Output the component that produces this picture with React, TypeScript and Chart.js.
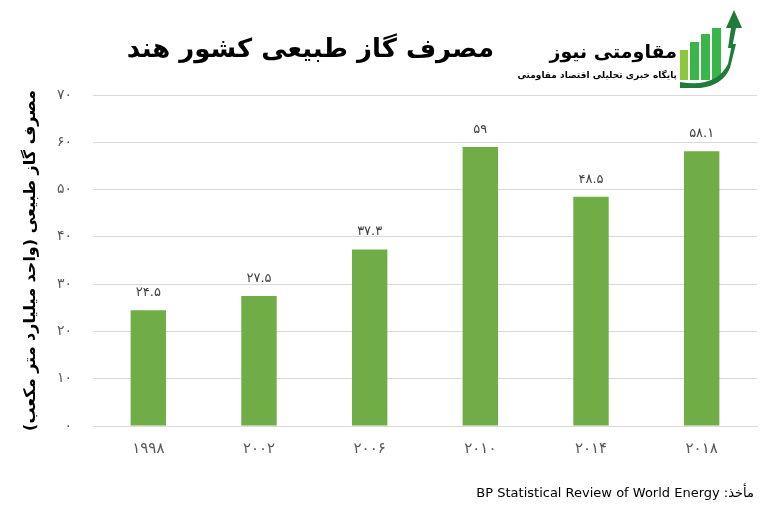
import React, { useEffect, useRef } from "react";
import { Chart, registerables } from "chart.js";

Chart.register(...registerables);

const categories = ["1998", "2002", "2006", "2010", "2014", "2018"];
const consumption = [24.5, 27.5, 37.3, 59, 48.5, 58.1];
const yTicks = [0, 10, 20, 30, 40, 50, 60, 70];

const titleText = "مصرف گاز طبیعی کشور هند";
const yAxisTitle = "مصرف گاز طبیعی (واحد میلیارد متر مکعب)";
const sourceText = "مأخذ: BP Statistical Review of World Energy";
const logoName = "مقاومتی نیوز";
const logoSub = "پایگاه خبری تحلیلی اقتصاد مقاومتی";

const FA_DIGITS = "۰۱۲۳۴۵۶۷۸۹";
const toFa = (s: string | number) =>
  String(s).replace(/[0-9]/g, (d) => FA_DIGITS[Number(d)]);

const FONT = "'DejaVu Sans', 'Noto Sans', sans-serif";

const valueLabels = {
  id: "valueLabels",
  afterDatasetsDraw(chart: any) {
    const ctx = chart.ctx;
    const meta = chart.getDatasetMeta(0);
    ctx.save();
    ctx.font = `13px ${FONT}`;
    ctx.fillStyle = "#404040";
    ctx.textAlign = "center";
    ctx.textBaseline = "bottom";
    meta.data.forEach((bar: any, i: number) => {
      ctx.fillText(toFa(consumption[i]), bar.x, bar.y - 11);
    });
    ctx.restore();
  },
};

export default function App() {
  const ref = useRef<HTMLCanvasElement | null>(null);

  useEffect(() => {
    if (!ref.current) return;
    const chart = new Chart(ref.current, {
      type: "bar",
      data: {
        labels: categories,
        datasets: [
          {
            data: consumption,
            backgroundColor: "#70ad47",
            barPercentage: 0.64,
            categoryPercentage: 0.5,
          },
        ],
      },
      plugins: [valueLabels],
      options: {
        responsive: false,
        animation: false,
        devicePixelRatio: 1,
        layout: { padding: { left: 17, top: 95, right: 11, bottom: 0 } },
        plugins: {
          legend: { display: false },
          tooltip: { enabled: false },
          title: { display: false },
        },
        scales: {
          x: {
            grid: { display: false, drawTicks: false },
            border: { display: true, color: "#d9d9d9", width: 1 },
            ticks: {
              padding: 14,
              color: "#595959",
              font: { family: FONT, size: 15 },
              callback: (_v: any, i: number) => toFa(categories[i]),
            },
            afterFit: (scale: any) => {
              scale.height = 84;
            },
          },
          y: {
            min: 0,
            max: 70,
            afterBuildTicks: (scale: any) => {
              scale.ticks = yTicks.map((v) => ({ value: v }));
            },
            grid: { color: "#d9d9d9", drawTicks: false },
            border: { display: false },
            ticks: {
              padding: 21,
              color: "#595959",
              font: { family: FONT, size: 14 },
              callback: (v: any) => toFa(v),
            },
            title: {
              display: true,
              text: yAxisTitle,
              color: "#000000",
              font: { family: FONT, size: 16, weight: "bold" },
              padding: { top: 4, bottom: 4 },
            },
            afterFit: (scale: any) => {
              scale.width = 76;
            },
          },
        },
      },
    });
    return () => chart.destroy();
  }, []);

  return (
    <div
      style={{
        position: "absolute",
        left: 0,
        top: 0,
        width: 768,
        height: 510,
        background: "#ffffff",
        overflow: "hidden",
        fontFamily: FONT,
      }}
    >
      <canvas
        ref={ref}
        width={768}
        height={510}
        style={{ position: "absolute", left: 0, top: 0, width: 768, height: 510 }}
      />
      <div
        dir="rtl"
        style={{
          position: "absolute",
          right: 768 - 494,
          top: 30,
          fontSize: 26,
          fontWeight: "bold",
          color: "#000",
          whiteSpace: "nowrap",
          lineHeight: "36px",
        }}
      >
        {titleText}
      </div>
      <div
        dir="rtl"
        style={{
          position: "absolute",
          right: 768 - 677,
          top: 38,
          fontSize: 19,
          fontWeight: "bold",
          color: "#000",
          whiteSpace: "nowrap",
          lineHeight: "26px",
        }}
      >
        {logoName}
      </div>
      <div
        dir="rtl"
        style={{
          position: "absolute",
          right: 768 - 677,
          top: 68,
          fontSize: 9,
          fontWeight: "bold",
          color: "#000",
          whiteSpace: "nowrap",
          lineHeight: "14px",
        }}
      >
        {logoSub}
      </div>
      <svg
        width={70}
        height={80}
        viewBox="0 0 70 80"
        style={{ position: "absolute", left: 676, top: 8 }}
      >
        <rect x={4} y={42} width={8} height={30} fill="#8dc63f" />
        <rect x={14} y={34} width={9} height={38} fill="#39b54a" />
        <rect x={25} y={26} width={9} height={46} fill="#39b54a" />
        <rect x={36} y={20} width={9} height={52} fill="#39b54a" />
        <path
          d="M4 74 Q40 80 52 56 L56 36 L60 36 L54 60 Q44 84 4 80 Z"
          fill="#1e7b3a"
        />
        <polygon points="50,20 58,2 66,20 60,20 56,40 52,40 55,20" fill="#1e7b3a" />
      </svg>
      <div
        dir="rtl"
        style={{
          position: "absolute",
          right: 768 - 754,
          top: 484,
          fontSize: 13,
          color: "#000",
          whiteSpace: "nowrap",
          lineHeight: "18px",
        }}
      >
        {sourceText}
      </div>
    </div>
  );
}
